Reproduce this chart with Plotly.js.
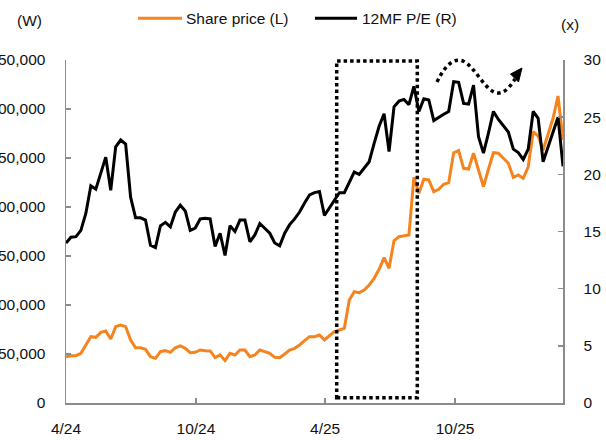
<!DOCTYPE html>
<html>
<head>
<meta charset="utf-8">
<script src="https://cdn.plot.ly/plotly-3.0.1.min.js"></script>
<style>html,body{margin:0;padding:0;background:#fff;}#chart{width:606px;height:440px;}</style>
</head>
<body>
<div id="chart"></div>
<script>
// Weekly observation dates
const dates = [
 "2024-04-01","2024-04-08","2024-04-15","2024-04-22","2024-04-29","2024-05-06","2024-05-13","2024-05-20","2024-05-27","2024-06-03",
 "2024-06-10","2024-06-17","2024-06-24","2024-07-01","2024-07-08","2024-07-15","2024-07-22","2024-07-29","2024-08-05","2024-08-12",
 "2024-08-19","2024-08-26","2024-09-02","2024-09-09","2024-09-16","2024-09-23","2024-09-30","2024-10-07","2024-10-14","2024-10-21",
 "2024-10-28","2024-11-04","2024-11-11","2024-11-18","2024-11-25","2024-12-02","2024-12-09","2024-12-16","2024-12-23","2024-12-30",
 "2025-01-06","2025-01-13","2025-01-20","2025-01-27","2025-02-03","2025-02-10","2025-02-17","2025-02-24","2025-03-03","2025-03-10",
 "2025-03-17","2025-03-24","2025-03-31","2025-04-07","2025-04-14","2025-04-21","2025-04-28","2025-05-05","2025-05-12","2025-05-19",
 "2025-05-26","2025-06-02","2025-06-09","2025-06-16","2025-06-23","2025-06-30","2025-07-07","2025-07-14","2025-07-21","2025-07-28",
 "2025-08-04","2025-08-11","2025-08-18","2025-08-25","2025-09-01","2025-09-08","2025-09-15","2025-09-22","2025-09-29","2025-10-06",
 "2025-10-13","2025-10-20","2025-10-27","2025-11-03","2025-11-10","2025-11-17","2025-11-24","2025-12-01","2025-12-08","2025-12-15",
 "2025-12-22","2025-12-29","2026-01-05","2026-01-12","2026-01-19","2026-01-26","2026-02-02","2026-02-09","2026-02-16","2026-02-23",
 "2026-03-02"
];

// Share price (W), left axis
const sharePrice = [
 47250,48300,48300,50700,59200,67700,67000,72100,73500,65300,
 77900,79600,77900,64300,56400,56400,54800,47300,45600,52400,
 53400,51700,56400,58200,55800,51300,51700,54100,53400,53100,
 46300,49000,43200,50700,49000,54100,54100,47300,49000,54100,
 52400,50700,46600,46300,50000,54100,55800,59200,63600,67700,
 67700,69400,64300,68400,72800,74500,76200,105100,113600,112600,
 115300,120400,127200,136400,148300,137400,165600,169700,170700,171400,
 230300,214000,228300,227600,215600,218100,223200,224800,255400,257500,
 239500,238800,254800,238500,220700,238500,255400,254800,249700,244600,
 230300,232700,229300,241100,276800,272400,258200,275200,290500,313300,
 268400
];

// 12-month forward P/E (x), right axis
const fwdPE = [
 14.0,14.5,14.55,15.1,16.6,19.0,18.7,20.1,21.5,18.6,
 22.4,23.0,22.65,18.0,16.2,16.2,16.0,13.8,13.6,15.5,
 15.8,15.4,16.7,17.3,16.8,15.1,15.3,16.1,16.15,16.1,
 13.7,14.85,12.9,15.5,15.0,16.0,16.0,14.1,14.7,15.7,
 15.3,14.85,14.0,13.75,14.85,15.6,16.1,16.7,17.5,18.2,
 18.4,18.5,16.4,17.1,17.75,18.4,18.4,19.3,20.2,20.0,
 20.6,21.1,22.7,24.2,25.3,22.0,25.9,26.4,26.55,26.1,
 27.7,25.5,26.6,26.5,24.7,25.0,25.25,25.5,28.1,28.05,
 26.2,26.15,27.8,23.3,21.85,23.6,25.5,24.8,24.2,23.7,
 22.2,21.9,21.3,22.2,25.5,24.9,21.1,22.4,23.7,25.0,
 20.7
];

const xTickVals = ["2024-04-01","2024-10-01","2025-04-01","2025-10-01"];
const xTickText = ["4/24","10/24","4/25","10/25"];
const seriesNames = ["Share price (L)", "12MF P/E (R)"];
const seriesColors = ["#F5841F", "#000000"];

// ---- styling / layout ----
const W = 606, H = 440;
const M = {l: 66, r: 43, t: 60, b: 37};
const PW = W - M.l - M.r, PH = H - M.t - M.b;
const px = (x) => (x - M.l) / PW;
const py = (y) => (H - M.b - y) / PH;
const FONT = "Liberation Sans, Arial, sans-serif";
const AX = "#8c8c8c";
const TXT = "#111";

const traces = [
  {x: dates, y: sharePrice, name: seriesNames[0], type: "scatter", mode: "lines",
   line: {color: seriesColors[0], width: 3}, yaxis: "y"},
  {x: dates, y: fwdPE, name: seriesNames[1], type: "scatter", mode: "lines",
   line: {color: seriesColors[1], width: 3}, yaxis: "y2"}
];

const curve = "M" + px(437) + "," + py(82) +
  " C" + px(446) + "," + py(63) + " " + px(455) + "," + py(58) + " " + px(463) + "," + py(61) +
  " C" + px(475) + "," + py(66) + " " + px(486) + "," + py(93) + " " + px(498) + "," + py(93) +
  " C" + px(506) + "," + py(93) + " " + px(511) + "," + py(85) + " " + px(515) + "," + py(79);
const head = "M" + px(522) + "," + py(68) + " L" + px(510.5) + "," + py(74) + " L" + px(518.5) + "," + py(82) + " Z";

const axisCommon = {ticks: "inside", ticklen: 5, tickcolor: AX, tickwidth: 1.5, showline: true, linecolor: AX,
  linewidth: 1.5, showgrid: false, zeroline: false, tickfont: {family: FONT, size: 15.5, color: TXT}};

const layout = {
  width: W, height: H, autosize: false,
  margin: M,
  paper_bgcolor: "#fff", plot_bgcolor: "#fff",
  font: {family: FONT, size: 15.5, color: TXT},
  showlegend: false,
  xaxis: Object.assign({type: "date", range: ["2024-04-01", "2026-03-02"], tickvals: xTickVals, ticktext: xTickText,
          ticklabelstandoff: 11}, axisCommon),
  yaxis: Object.assign({range: [0, 350000], dtick: 50000, tick0: 0, tickformat: ",d", ticklabelstandoff: 16}, axisCommon),
  yaxis2: Object.assign({range: [0, 30], dtick: 5, tick0: 0, overlaying: "y", side: "right", ticklabelstandoff: 16}, axisCommon),
  annotations: [
    {text: "(W)", xref: "paper", yref: "paper", x: px(29.5), y: py(20.5), showarrow: false,
     xanchor: "center", yanchor: "middle", font: {family: FONT, size: 15.5, color: TXT}},
    {text: "(x)", xref: "paper", yref: "paper", x: px(569.5), y: py(24.5), showarrow: false,
     xanchor: "center", yanchor: "middle", font: {family: FONT, size: 15.5, color: TXT}},
    {text: seriesNames[0], xref: "paper", yref: "paper", x: px(184), y: py(18.5), showarrow: false,
     xanchor: "left", yanchor: "middle", font: {family: FONT, size: 15.5, color: TXT}},
    {text: seriesNames[1], xref: "paper", yref: "paper", x: px(360), y: py(18.5), showarrow: false,
     xanchor: "left", yanchor: "middle", font: {family: FONT, size: 15.5, color: TXT}}
  ],
  shapes: [
    {type: "line", xref: "paper", yref: "paper", x0: px(138), x1: px(182), y0: py(18.3), y1: py(18.3),
     line: {color: seriesColors[0], width: 3}},
    {type: "line", xref: "paper", yref: "paper", x0: px(315), x1: px(357), y0: py(18.3), y1: py(18.3),
     line: {color: seriesColors[1], width: 3}},
    {type: "rect", xref: "paper", yref: "paper", x0: px(336.7), x1: px(417.3), y0: py(397.7), y1: py(61),
     line: {color: "#000", width: 3.5, dash: "3.5px,3px"}, fillcolor: "rgba(0,0,0,0)"},
    {type: "path", xref: "paper", yref: "paper", path: curve,
     line: {color: "#000", width: 3.5, dash: "3.5px,3.5px"}, fillcolor: "rgba(0,0,0,0)"},
    {type: "path", xref: "paper", yref: "paper", path: head,
     line: {color: "#000", width: 1}, fillcolor: "#000"}
  ]
};

Plotly.newPlot("chart", traces, layout, {staticPlot: true, displayModeBar: false});
</script>
</body>
</html>
